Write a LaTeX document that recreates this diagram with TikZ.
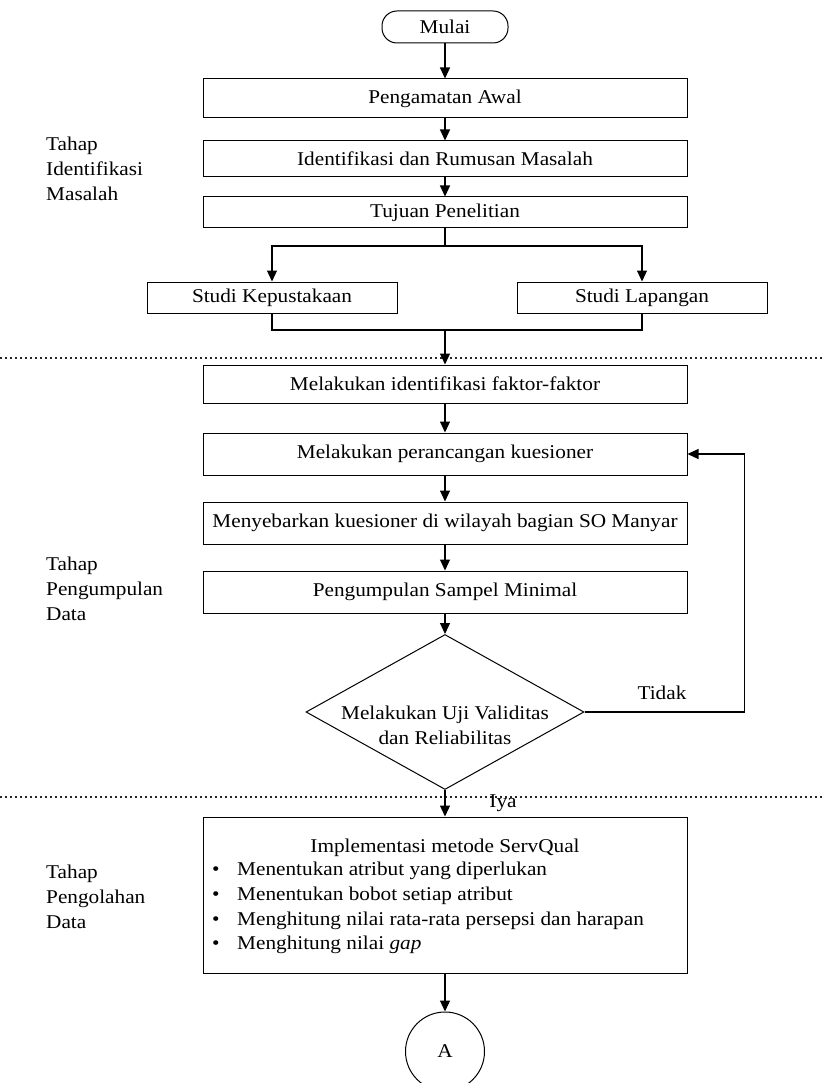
\documentclass[tikz,border=0pt]{standalone}
\usepackage{fontspec}
\setmainfont[FakeStretch=1.09]{Liberation Serif}
\usetikzlibrary{arrows.meta,shapes.geometric}

\begin{document}
\begin{tikzpicture}[x=1pt, y=-1pt,
    every node/.style={font=\fontsize{19.5}{25}\selectfont, inner sep=0pt},
    terminal/.style={draw, rounded corners=15pt, minimum width=126pt, minimum height=32pt, line width=1pt},
    process/.style={draw, minimum width=484pt, line width=1pt},
    decision/.style={diamond, draw, minimum width=278pt, minimum height=155pt, line width=1pt},
    connector/.style={circle, draw, minimum size=79pt, line width=1pt},
    link/.style={line width=1.1pt},
    flow/.style={link, -{Triangle[length=11pt, width=10pt]}},
    separator/.style={line width=1.4pt, dash pattern=on 1.5pt off 3.5pt, black!85}
  ]
  \useasboundingbox (0,0) rectangle (824,1083);

  % batas antar tahap
  \draw[separator] (0,358) -- (824,358);
  \draw[separator] (0,797) -- (824,797);

  % keterangan tahap
  \node[align=left, anchor=north west] (tahap1) at (46,137) {Tahap\\Identifikasi\\Masalah};
  \node[align=left, anchor=north west] (tahap2) at (46,557) {Tahap\\Pengumpulan\\Data};
  \node[align=left, anchor=north west] (tahap3) at (46,865) {Tahap\\Pengolahan\\Data};

  % tahap identifikasi masalah
  \node[terminal] (mulai) at (445,27) {Mulai};
  \node[process, minimum height=39pt] (awal) at (445,98.5) {Pengamatan Awal};
  \node[process, minimum height=36pt] (rumusan) at (445,159) {Identifikasi dan Rumusan Masalah};
  \node[process, minimum height=31pt] (tujuan) at (445,212.5) {Tujuan Penelitian};
  \node[process, minimum width=250pt, minimum height=31pt] (pustaka) at (272,297.5) {Studi Kepustakaan};
  \node[process, minimum width=250pt, minimum height=31pt] (lapangan) at (642,297.5) {Studi Lapangan};

  % tahap pengumpulan data
  \node[process, minimum height=38pt] (faktor) at (445,384) {Melakukan identifikasi faktor-faktor};
  \node[process, minimum height=42pt] (rancang) at (445,454) {Melakukan perancangan kuesioner};
  \node[process, minimum height=42pt] (sebar) at (445,523) {Menyebarkan kuesioner di wilayah bagian SO Manyar};
  \node[process, minimum height=42pt] (sampel) at (445,592) {Pengumpulan Sampel Minimal};
  \node[decision] (uji) at (445,712) {};
  \node[align=center] (ujitext) at (445,725) {Melakukan Uji Validitas\\dan Reliabilitas};

  % tahap pengolahan data
  \node[process, minimum height=156pt] (servqual) at (445,895) {};
  \node[anchor=base] (judul) at (445,852) {Implementasi metode ServQual};
  \foreach \y/\txt in {
    875/Menentukan atribut yang diperlukan,
    900/Menentukan bobot setiap atribut,
    925/Menghitung nilai rata-rata persepsi dan harapan,
    949/Menghitung nilai \textit{gap}
  }{
    \node[anchor=base west] (dot\y) at (212,\y) {\textbullet};
    \node[anchor=base west] (butir\y) at (237,\y) {\txt};
  }
  \node[connector] (A) at (445,1051.5) {A};

  % alur
  \foreach \a/\b in {mulai/awal, awal/rumusan, rumusan/tujuan, faktor/rancang,
                     rancang/sebar, sebar/sampel, sampel/uji, uji/servqual, servqual/A}
    \draw[flow] (\a) -- (\b);
  \coordinate (cabang) at (445,246);
  \coordinate (gabung) at (445,330);
  \draw[link] (tujuan) -- (cabang);
  \draw[flow] (cabang) -| (pustaka);
  \draw[flow] (cabang) -| (lapangan);
  \draw[link] (pustaka) |- (gabung);
  \draw[link] (lapangan) |- (gabung);
  \draw[flow] (gabung) -- (faktor);
  \draw[flow] (uji.east) -- ++(160,0) |- (rancang);

  \node (tidak) at (662,693) {Tidak};
  \node (iya) at (503,803) {Iya};
\end{tikzpicture}
\end{document}
